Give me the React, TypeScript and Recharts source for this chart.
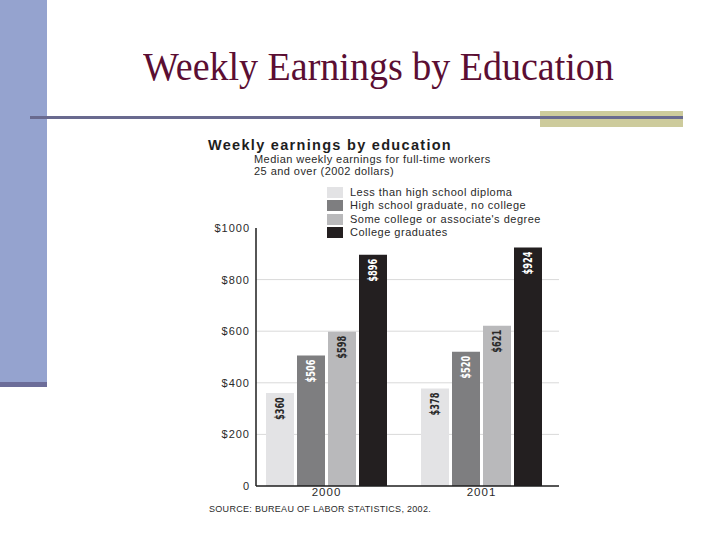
import React from 'react';
import { BarChart, Bar, XAxis, YAxis, CartesianGrid, LabelList, Legend } from 'recharts';

const years = ['2000', '2001'];
const lessThanHS = [360, 378];
const hsGrad = [506, 520];
const someCollege = [598, 621];
const collegeGrads = [896, 924];
const seriesNames = [
  'Less than high school diploma',
  'High school graduate, no college',
  "Some college or associate's degree",
  'College graduates',
];
const seriesKeys = ['less', 'hs', 'some', 'college'];
const seriesColors = ['#e3e3e5', '#7e7e80', '#b9b9bb', '#231f20'];
const labelColors = ['#2a2a2a', '#ffffff', '#2a2a2a', '#ffffff'];
const yTicks = [0, 200, 400, 600, 800, 1000];
const gridValues = [200, 400, 600, 800];

const data = years.map((year, i) => ({
  year,
  less: lessThanHS[i],
  hs: hsGrad[i],
  some: someCollege[i],
  college: collegeGrads[i],
}));

const sans = '"Liberation Sans", Arial, sans-serif';

const makeLabel = (color: string) => (props: any) => {
  const x = Number(props.x);
  const y = Number(props.y);
  const w = Number(props.width);
  const cx = x + w / 2;
  const ty = y + 4;
  return (
    <text
      x={cx}
      y={ty}
      transform={`rotate(-90 ${cx} ${ty})`}
      textAnchor="end"
      dominantBaseline="central"
      fill={color}
      fontFamily='"Liberation Sans Narrow", "DejaVu Sans Condensed", sans-serif'
      fontWeight="bold"
      fontSize={13}
      textLength={23}
      lengthAdjust="spacingAndGlyphs"
    >
      {'$' + props.value}
    </text>
  );
};

const renderLegend = (props: any) => {
  const payload = [...(props.payload || [])].sort(
    (a: any, b: any) => seriesNames.indexOf(a.value) - seriesNames.indexOf(b.value)
  );
  return (
    <div style={{ fontFamily: sans }}>
      {payload.map((entry: any, i: number) => (
        <div key={i} style={{ display: 'flex', alignItems: 'center', height: 13.3 }}>
          <div style={{ width: 16, height: 11, background: entry.color, marginRight: 7 }} />
          <span style={{ fontSize: 11, letterSpacing: 0.5, color: '#2a2a2a', lineHeight: '13px' }}>
            {entry.value}
          </span>
        </div>
      ))}
    </div>
  );
};

export default function App() {
  return (
    <div
      style={{
        position: 'fixed',
        left: 0,
        top: 0,
        width: 720,
        height: 540,
        background: '#ffffff',
        overflow: 'hidden',
      }}
    >
      <div style={{ position: 'absolute', left: 0, top: 0, width: 47, height: 382, background: '#95a3cf' }} />
      <div style={{ position: 'absolute', left: 0, top: 382, width: 47, height: 5, background: '#6c6d99' }} />
      <div style={{ position: 'absolute', left: 540, top: 111, width: 143, height: 16, background: '#cdcb9c' }} />
      <div style={{ position: 'absolute', left: 30, top: 116, width: 653, height: 3, background: '#696a8f' }} />
      <div
        style={{
          position: 'absolute',
          left: 143,
          top: 44,
          fontFamily: '"Liberation Serif", "Times New Roman", serif',
          fontSize: 40,
          lineHeight: '46px',
          color: '#5b0e33',
          whiteSpace: 'nowrap',
          transform: 'scaleX(0.95)',
          transformOrigin: 'left top',
        }}
      >
        Weekly Earnings by Education
      </div>

      <div style={{ position: 'absolute', left: 0, top: 0 }}>
        <BarChart
          width={720}
          height={540}
          data={data}
          margin={{ top: 228, right: 161, bottom: 24, left: 196 }}
          barSize={28}
          barGap={3}
        >
          <text x={208} y={150} fontFamily={sans} fontWeight="bold" fontSize={14.5} letterSpacing={1.3} fill="#1e1e1e">
            Weekly earnings by education
          </text>
          <text x={254} y={163} fontFamily={sans} fontSize={11} letterSpacing={0.45} fill="#2a2a2a">
            Median weekly earnings for full-time workers
          </text>
          <text x={254} y={175} fontFamily={sans} fontSize={11} letterSpacing={0.45} fill="#2a2a2a">
            25 and over (2002 dollars)
          </text>
          <text x={209} y={512} fontFamily={sans} fontSize={9} letterSpacing={0.3} fill="#2a2a2a">
            SOURCE: BUREAU OF LABOR STATISTICS, 2002.
          </text>
          <CartesianGrid vertical={false} horizontalValues={gridValues} stroke="#d9d9d9" />
          <XAxis
            dataKey="year"
            axisLine={{ stroke: '#1e1e1e', strokeWidth: 1.5 }}
            tickLine={false}
            tickSize={0}
            tickMargin={2}
            height={30}
            padding={{ left: -7, right: 0 }}
            tick={{ fill: '#2a2a2a', fontSize: 11.5, fontFamily: sans, letterSpacing: 1 }}
          />
          <YAxis
            domain={[0, 1000]}
            ticks={yTicks}
            width={60}
            axisLine={{ stroke: '#1e1e1e', strokeWidth: 1.5 }}
            tickLine={false}
            tickSize={4}
            tickMargin={2}
            tickFormatter={(v: number) => (v === 0 ? '0' : '$' + v)}
            tick={{ fill: '#2a2a2a', fontSize: 11, fontFamily: sans, letterSpacing: 1 }}
          />
          <Legend
            layout="vertical"
            align="center"
            verticalAlign="middle"
            content={renderLegend}
            wrapperStyle={{ top: 186, left: 327, width: 250 }}
          />
          {seriesKeys.map((k, i) => (
            <Bar key={k} dataKey={k} name={seriesNames[i]} fill={seriesColors[i]} isAnimationActive={false}>
              <LabelList dataKey={k} content={makeLabel(labelColors[i])} />
            </Bar>
          ))}
        </BarChart>
      </div>
    </div>
  );
}
